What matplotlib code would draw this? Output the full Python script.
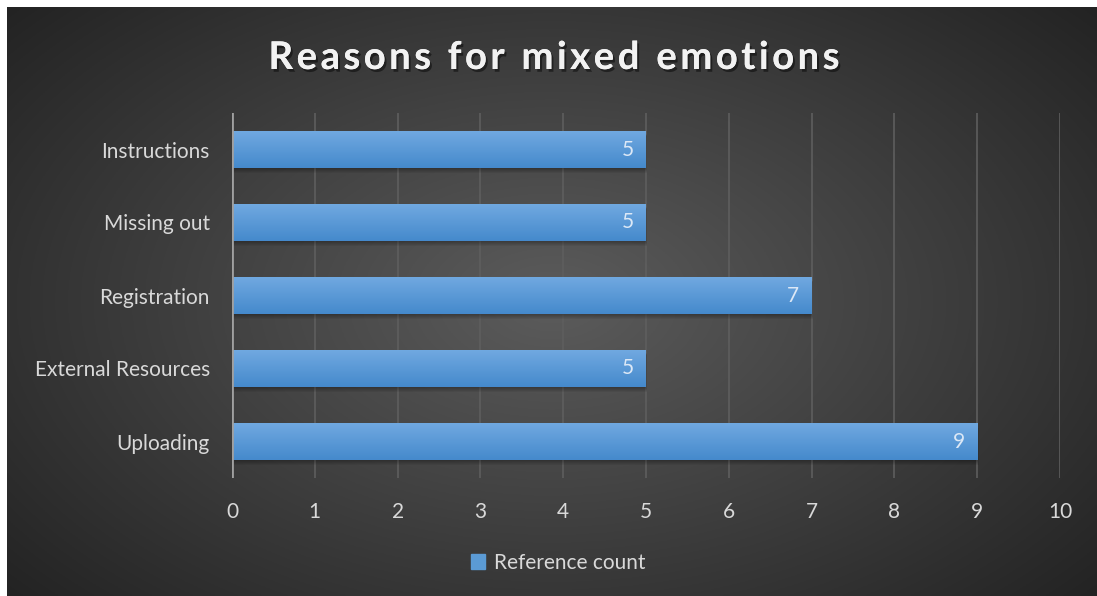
import numpy as np
import matplotlib.pyplot as plt
from matplotlib.patches import Rectangle, Patch
import matplotlib.patheffects as pe

categories = ["Uploading", "External Resources", "Registration", "Missing out", "Instructions"]
counts = [9, 5, 7, 5, 5]
x_ticks = list(range(0, 11))
title = "Reasons for mixed emotions"

plt.rcParams['font.family'] = ['Lato', 'DejaVu Sans']

W, H = 1097, 596
fig = plt.figure(figsize=(W / 100, H / 100), dpi=100)
fig.patch.set_facecolor("white")

# dark radial background panel
bg = fig.add_axes([7 / W, 0, 1 - 7 / W, 1 - 7 / H])
bg.set_axis_off()
yy, xx = np.mgrid[0:1:300j, 0:1:550j]
r = np.sqrt(((xx - 0.5) / 0.75) ** 2 + ((yy - 0.5) / 0.85) ** 2)
shade = np.clip(0.36 - 0.25 * r, 0.14, 0.36)
bg.imshow(np.dstack([shade] * 3), extent=[0, 1, 0, 1], aspect="auto", origin="lower")
bg.set_xlim(0, 1)
bg.set_ylim(0, 1)

ax = fig.add_axes([232 / W, 1 - 478 / H, (1060 - 232) / W, (478 - 113) / H])
ax.patch.set_alpha(0)
ypos = np.arange(len(categories))
bar_h = 0.5

ax.set_xlim(0, 10)
ax.set_ylim(-0.5, len(categories) - 0.5)

for x in x_ticks[1:]:
    ax.axvline(x, color="#5e5e5e", lw=1.2, zorder=1)

grad = np.linspace(0, 1, 64).reshape(-1, 1, 1)
top_c = np.array([0.44, 0.66, 0.88])
bot_c = np.array([0.27, 0.54, 0.80])
bars = ax.barh(ypos, counts, height=bar_h, color="#5b9bd5", zorder=3)
for i, (b, v) in enumerate(zip(bars, counts)):
    y0 = b.get_y()
    # soft shadow below each bar
    for k in np.linspace(0.01, 0.07, 6):
        ax.add_patch(Rectangle((0, y0 - k), v + k * 0.25, bar_h, color="black",
                               alpha=0.06, lw=0, zorder=2))
    img = bot_c + (top_c - bot_c) * grad * np.ones((1, 1, 3))
    im = ax.imshow(img, extent=[0, v, y0, y0 + bar_h], aspect="auto",
                   origin="lower", zorder=4)
    im.set_clip_path(b)
    ax.text(v - 0.15, ypos[i], str(v), ha="right", va="center",
            color="#dce8f6", fontsize=15, zorder=5)

ax.axvline(0, color="#a0a0a0", lw=2, zorder=6)
for s in ax.spines.values():
    s.set_visible(False)

ax.set_yticks(ypos)
ax.set_yticklabels(categories)
ax.set_xticks(x_ticks)
ax.tick_params(axis="both", length=0, colors="#d9d9d9", labelsize=15)
ax.tick_params(axis="y", pad=16)
ax.tick_params(axis="x", pad=17)

# letter-spaced title, placed one character at a time
renderer = fig.canvas.get_renderer()
tracking = 3.5
title_kw = dict(fontsize=27.5, fontweight="bold", color="#f2f2f2", va="center", ha="left",
                path_effects=[pe.withSimplePatchShadow(offset=(1.5, -2), shadow_rgbFace="black",
                                                       alpha=0.45), pe.Normal()])
widths = []
for ch in title:
    t = fig.text(0, 0, ch if ch != " " else "n", **title_kw)
    w = t.get_window_extent(renderer).width
    if ch == " ":
        w *= 0.45
    widths.append(w)
    t.remove()
total = sum(widths) + tracking * (len(title) - 1)
xpix = 554 - total / 2
for ch, w in zip(title, widths):
    if ch != " ":
        fig.text(xpix / W, 1 - 58 / H, ch, **title_kw)
    xpix += w + tracking

leg = fig.legend(handles=[Patch(color="#5b9bd5", label="Reference count")],
                 loc="center", bbox_to_anchor=(558 / W, 1 - 563 / H),
                 frameon=False, fontsize=15, handlelength=0.7, handleheight=0.7,
                 handletextpad=0.4)
for t in leg.get_texts():
    t.set_color("#d9d9d9")

fig.savefig("out.png", dpi=100, facecolor=fig.get_facecolor())
